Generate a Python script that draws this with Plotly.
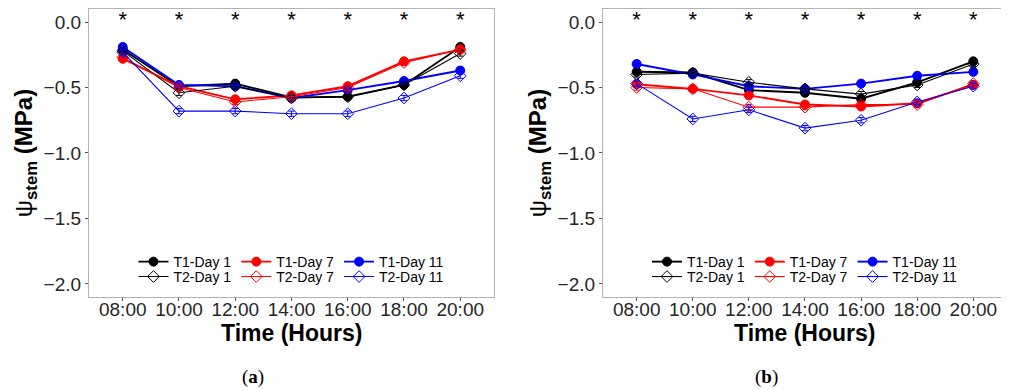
import plotly.graph_objects as go

times = ["08:00", "10:00", "12:00", "14:00", "16:00", "18:00", "20:00"]
signif = ["*", "*", "*", "*", "*", "*", "*"]

# Panel (a)
a_t1_d1 = [-0.21, -0.49, -0.47, -0.575, -0.57, -0.48, -0.19]
a_t2_d1 = [-0.22, -0.54, -0.49, -0.58, -0.57, -0.48, -0.24]
a_t1_d7 = [-0.28, -0.49, -0.59, -0.56, -0.49, -0.30, -0.21]
a_t2_d7 = [-0.27, -0.50, -0.61, -0.57, -0.50, -0.31, -0.21]
a_t1_d11 = [-0.19, -0.48, -0.49, -0.58, -0.52, -0.45, -0.37]
a_t2_d11 = [-0.23, -0.68, -0.68, -0.70, -0.70, -0.58, -0.41]
a_err = [0.02, 0.02, 0.02, 0.02, 0.02, 0.02, 0.02]

# Panel (b)
b_t1_d1 = [-0.38, -0.385, -0.52, -0.54, -0.585, -0.46, -0.30]
b_t2_d1 = [-0.40, -0.39, -0.46, -0.51, -0.55, -0.48, -0.32]
b_t1_d7 = [-0.475, -0.51, -0.56, -0.63, -0.645, -0.62, -0.48]
b_t2_d7 = [-0.50, -0.51, -0.65, -0.65, -0.63, -0.63, -0.47]
b_t1_d11 = [-0.32, -0.40, -0.49, -0.51, -0.47, -0.41, -0.38]
b_t2_d11 = [-0.47, -0.74, -0.67, -0.81, -0.75, -0.61, -0.49]
b_err = [0.02, 0.02, 0.02, 0.02, 0.02, 0.02, 0.02]

names = ["T1-Day 1", "T1-Day 7", "T1-Day 11", "T2-Day 1", "T2-Day 7", "T2-Day 11"]
colors = ["#000000", "#FF0000", "#0000FF", "#000000", "#FF0000", "#0000FF"]
ytick_vals = [0, -0.5, -1.0, -1.5, -2.0]
ytick_text = ["0.0", "−0.5", "−1.0", "−1.5", "−2.0"]

panels = [
    ("x", "y", [a_t1_d1, a_t1_d7, a_t1_d11, a_t2_d1, a_t2_d7, a_t2_d11], a_err, ["legend", "legend2"]),
    ("x2", "y2", [b_t1_d1, b_t1_d7, b_t1_d11, b_t2_d1, b_t2_d7, b_t2_d11], b_err, ["legend3", "legend4"]),
]

fig = go.Figure()
for xa, ya, series, err, legs in panels:
    for i, vals in enumerate(series):
        t1 = i < 3
        fig.add_trace(go.Scatter(
            x=times, y=vals, xaxis=xa, yaxis=ya, name=names[i],
            mode="lines+markers",
            line=dict(color=colors[i], width=1.9 if t1 else 1.1),
            marker=dict(symbol="circle" if t1 else "diamond-open", size=9,
                        color=colors[i], line=dict(color=colors[i], width=1)),
            error_y=dict(type="data", array=err, color=colors[i], thickness=1, width=3),
            legend=legs[0] if t1 else legs[1],
        ))
    fig.add_trace(go.Scatter(
        x=times, y=[0.008] * len(times), xaxis=xa, yaxis=ya, mode="text", text=signif,
        textfont=dict(size=22, color="#000000", family="Liberation Sans"),
        cliponaxis=False, showlegend=False, hoverinfo="skip",
    ))

tickfont = dict(size=19, color="#262626", family="Liberation Sans")
axis_common = dict(
    showline=True, mirror=True, linecolor="#b3b3b3", linewidth=1.2,
    ticks="outside", ticklen=3, tickcolor="#555555", showgrid=False, zeroline=False,
    tickfont=tickfont,
)
ytitle = "ψ<sub><b>stem</b></sub> <b>(MPa)</b>"
xtitle = "<b>Time (Hours)</b>"

xa_dom = [0.0809, 0.4855]
xb_dom = [0.5944, 0.998]
y_dom = [0.2435, 0.9974]
xa_mid = (xa_dom[0] + xa_dom[1]) / 2
xb_mid = (xb_dom[0] + xb_dom[1]) / 2

fig.update_layout(
    width=1001, height=382,
    margin=dict(l=0, r=0, t=0, b=0),
    paper_bgcolor="white", plot_bgcolor="white",
    font=dict(family="Liberation Sans", color="#000000"),
    xaxis=dict(domain=xa_dom, anchor="y", range=[-0.6, 6.6], ticklabelstandoff=-8, **axis_common),
    yaxis=dict(domain=y_dom, anchor="x", range=[-2.1, 0.1],
               tickvals=ytick_vals, ticktext=ytick_text,
               title=dict(text=ytitle, font=dict(size=24), standoff=4), **axis_common),
    xaxis2=dict(domain=xb_dom, anchor="y2", range=[-0.6, 6.6], ticklabelstandoff=-8, **axis_common),
    yaxis2=dict(domain=y_dom, anchor="x2", range=[-2.1, 0.1],
                tickvals=ytick_vals, ticktext=ytick_text,
                title=dict(text=ytitle, font=dict(size=24), standoff=4), **axis_common),
)

leg_common = dict(orientation="h", bgcolor="rgba(0,0,0,0)", font=dict(size=14, color="#000000"),
                  itemwidth=30, xanchor="center", yanchor="middle")
fig.update_layout(
    legend=dict(x=xa_mid, y=0.335, **leg_common),
    legend2=dict(x=xa_mid, y=0.296, **leg_common),
    legend3=dict(x=xb_mid, y=0.335, **leg_common),
    legend4=dict(x=xb_mid, y=0.296, **leg_common),
)

for xm in (xa_mid, xb_mid):
    fig.add_annotation(text=xtitle, x=xm, y=0.148, xref="paper", yref="paper",
                       xanchor="center", yanchor="middle", showarrow=False,
                       font=dict(family="Liberation Sans", size=23, color="#000000"))

fig.add_annotation(text="(<b>a</b>)", x=0.2448, y=0.034, xref="paper", yref="paper",
                   xanchor="center", yanchor="middle", showarrow=False,
                   font=dict(family="Liberation Serif", size=19, color="#000000"))
fig.add_annotation(text="(<b>b</b>)", x=0.758, y=0.034, xref="paper", yref="paper",
                   xanchor="center", yanchor="middle", showarrow=False,
                   font=dict(family="Liberation Serif", size=19, color="#000000"))

fig.write_html("out.html")
